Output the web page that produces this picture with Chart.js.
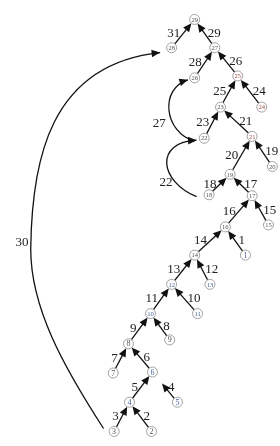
<!DOCTYPE html>
<html>
<head>
<meta charset="utf-8">
<script src="https://cdn.jsdelivr.net/npm/chart.js@4.4.1/dist/chart.umd.min.js"></script>
<style>
html, body { margin: 0; padding: 0; background: #fff; font-family: "Liberation Serif", "Times New Roman", serif; }
#wrap { width: 280px; height: 446px; }
</style>
</head>
<body>
<div id="wrap"><canvas id="tree"></canvas></div>
<script>
// 노드 (번호, 위치)
const nodeIds = [1, 2, 3, 4, 5, 6, 7, 8, 9, 10, 11, 12, 13, 14, 15, 16, 17, 18, 19, 20, 21, 22, 23, 24, 25, 26, 27, 28, 29];
const nodeX = [250, 152, 113, 129, 179, 153, 112, 128, 171, 151, 200, 173, 213, 197, 274, 229, 257, 212, 234, 278, 257, 207, 224, 267, 242, 197, 218, 173, 197];
const nodeY = [256, 437, 437, 407, 407, 376, 377, 347, 343, 316, 316, 286, 286, 256, 225, 227, 195, 194, 173, 165, 134, 136, 104, 104, 72, 74, 43, 43, 14];

// 직선 간선: 자식 -> 부모, 라벨
const edgeFrom  = [3, 2, 4, 5, 7, 6, 8, 9, 10, 11, 12, 13, 14, 1, 16, 15, 18, 17, 19, 20, 21, 22, 23, 24, 25, 26, 27, 28];
const edgeTo    = [4, 4, 6, 6, 8, 8, 10, 10, 12, 12, 14, 14, 16, 16, 17, 17, 19, 19, 21, 21, 23, 23, 25, 25, 27, 27, 29, 29];
const edgeLabel = ['3', '2', '5', '4', '7', '6', '9', '8', '11', '10', '13', '12', '14', '1', '16', '15', '18', '17', '20', '19', '21', '23', '25', '24', '26', '28', '29', '31'];

// 곡선 간선
const curveFrom  = [18, 22, 3];
const curveTo    = [22, 26, 28];
const curveLabel = ['22', '27', '30'];

// 곡선 모양 (베지어 제어점) 과 라벨 위치
const curvePaths = [
  [[199, 196], [160, 180], [155, 140], [199, 138]],
  [[197, 139], [165, 130], [160, 85], [190, 76]],
  [[102, 434], [60, 370], [26, 310], [26, 250], [27, 160], [45, 60], [161, 48]]
];
const curveLabelAt = [[167, 181], [160, 121], [17, 243]];

const nodeColor = { 1: '#44609a', 4: '#44609a', 5: '#44609a', 10: '#44609a', 11: '#44609a', 12: '#44609a', 13: '#44609a', 6: '#44609a', 21: '#9a4a3a', 24: '#9a4a3a', 25: '#9a4a3a' };
const shortEnd = { '4': 15 };
const FONT = '"Liberation Serif", "Times New Roman", serif';

function arrowHead(ctx, x, y, ux, uy) {
  const len = 8.5, half = 3.8;
  ctx.beginPath();
  ctx.moveTo(x, y);
  ctx.lineTo(x - ux * len - uy * half, y - uy * len + ux * half);
  ctx.lineTo(x - ux * len + uy * half, y - uy * len - ux * half);
  ctx.closePath();
  ctx.fill();
}

const treePlugin = {
  id: 'tree',
  beforeDatasetsDraw(chart) {
    const { ctx, scales: { x, y } } = chart;
    const px = v => x.getPixelForValue(v);
    const py = v => y.getPixelForValue(v);
    ctx.save();
    ctx.strokeStyle = '#111';
    ctx.fillStyle = '#111';
    ctx.lineWidth = 1.3;
    ctx.font = '13px ' + FONT;
    ctx.textBaseline = 'middle';

    edgeFrom.forEach((f, i) => {
      const a = nodeIds.indexOf(f), b = nodeIds.indexOf(edgeTo[i]);
      const x0 = px(nodeX[a]), y0 = py(nodeY[a]);
      const x1 = px(nodeX[b]), y1 = py(nodeY[b]);
      const d = Math.hypot(x1 - x0, y1 - y0);
      const ux = (x1 - x0) / d, uy = (y1 - y0) / d;
      const gap = shortEnd[edgeLabel[i]] || 5;
      const sx = x0 + ux * 5, sy = y0 + uy * 5;
      const ex = x1 - ux * gap, ey = y1 - uy * gap;
      ctx.beginPath();
      ctx.moveTo(sx, sy);
      ctx.lineTo(ex - ux * 5, ey - uy * 5);
      ctx.stroke();
      arrowHead(ctx, ex, ey, ux, uy);

      const mx = (x0 + x1) / 2, my = (y0 + y1) / 2;
      ctx.fillStyle = '#222';
      if (nodeX[a] < nodeX[b]) {
        ctx.textAlign = 'right';
        ctx.fillText(edgeLabel[i], mx - 3, my);
      } else {
        ctx.textAlign = 'left';
        ctx.fillText(edgeLabel[i], mx + 3, my);
      }
      ctx.fillStyle = '#111';
    });

    curvePaths.forEach((pts, i) => {
      const p = pts.map(q => [px(q[0]), py(q[1])]);
      ctx.beginPath();
      ctx.moveTo(p[0][0], p[0][1]);
      for (let k = 1; k + 2 < p.length; k += 3) {
        ctx.bezierCurveTo(p[k][0], p[k][1], p[k + 1][0], p[k + 1][1], p[k + 2][0], p[k + 2][1]);
      }
      ctx.stroke();
      const e = p[p.length - 1], c = p[p.length - 2];
      const d = Math.hypot(e[0] - c[0], e[1] - c[1]);
      arrowHead(ctx, e[0], e[1], (e[0] - c[0]) / d, (e[1] - c[1]) / d);
      ctx.fillStyle = '#222';
      ctx.textAlign = 'center';
      ctx.fillText(curveLabel[i], px(curveLabelAt[i][0]), py(curveLabelAt[i][1]));
      ctx.fillStyle = '#111';
    });
    ctx.restore();
  },
  afterDatasetsDraw(chart) {
    const { ctx, scales: { x, y } } = chart;
    ctx.save();
    ctx.textAlign = 'center';
    ctx.textBaseline = 'middle';
    nodeIds.forEach((id, i) => {
      ctx.font = (id < 10 ? 8 : 6.5) + 'px ' + FONT;
      ctx.fillStyle = nodeColor[id] || '#555';
      ctx.fillText(String(id), x.getPixelForValue(nodeX[i]), y.getPixelForValue(nodeY[i]) + 0.5);
    });
    ctx.restore();
  }
};

const ctxTree = document.getElementById('tree').getContext('2d');
new Chart(ctxTree, {
  type: 'scatter',
  data: {
    datasets: [{
      data: nodeIds.map((id, i) => ({ x: nodeX[i], y: nodeY[i] })),
      pointRadius: 5,
      pointBackgroundColor: '#fff',
      pointBorderColor: '#8a8a8a',
      pointBorderWidth: 0.8,
      clip: false
    }]
  },
  options: {
    responsive: true,
    maintainAspectRatio: false,
    animation: false,
    layout: { padding: 0 },
    scales: {
      x: { type: 'linear', min: 0, max: 280, display: false },
      y: { type: 'linear', min: 0, max: 446, reverse: true, display: false }
    },
    plugins: { legend: { display: false }, tooltip: { enabled: false } }
  },
  plugins: [treePlugin]
});
</script>
</body>
</html>
